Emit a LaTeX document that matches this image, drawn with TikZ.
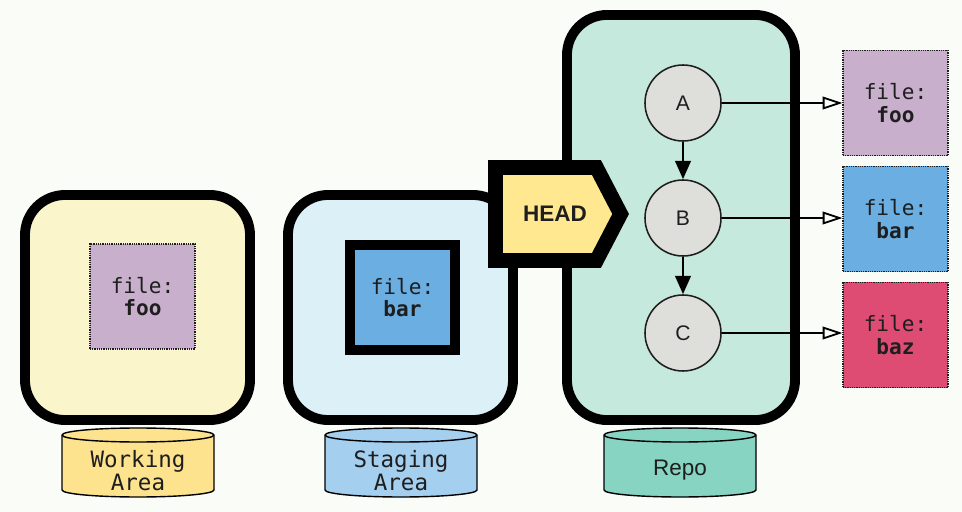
\documentclass[tikz,border=0pt]{standalone}
\usepackage{fontspec}
\setsansfont{Liberation Sans}
\setmonofont{DejaVu Sans Mono}
\usetikzlibrary{positioning,shapes.symbols,arrows.meta}

\definecolor{paper}{RGB}{250,252,248}
\definecolor{workfill}{RGB}{251,245,204}
\definecolor{stagefill}{RGB}{219,240,247}
\definecolor{repofill}{RGB}{197,234,221}
\definecolor{workcyl}{RGB}{253,227,142}
\definecolor{stagecyl}{RGB}{165,207,239}
\definecolor{repocyl}{RGB}{134,212,193}
\definecolor{lavender}{RGB}{200,175,203}
\definecolor{fileblue}{RGB}{106,174,226}
\definecolor{filepink}{RGB}{222,76,116}
\definecolor{headyellow}{RGB}{255,232,144}
\definecolor{commitgray}{RGB}{222,223,219}
\definecolor{ink}{RGB}{30,30,30}

\begin{document}
\begin{tikzpicture}[x=0.025cm, y=-0.025cm,
  area/.style={draw, line width=7pt, rounded corners=1cm, minimum width=5.625cm, minimum height=5.625cm},
  drum/.style={draw, line width=1pt},
  drumtext/.style={align=center, text=ink, font=\ttfamily\fontsize{16}{16.5}\selectfont},
  file/.style={draw=ink, line width=0.9pt, dash pattern=on 0.8pt off 0.8pt, minimum size=2.625cm, align=center, text=ink, font=\ttfamily\fontsize{15}{16}\selectfont},
  stagedfile/.style={file, draw=black, solid, line width=7pt},
  commit/.style={circle, draw=ink, line width=1.1pt, fill=commitgray, minimum size=1.9cm, text=ink, font=\sffamily\fontsize{15}{17}\selectfont},
  parent/.style={line width=1.8pt, -{Triangle[length=13pt, width=11pt]}},
  blob/.style={line width=1.3pt, -{Triangle[open, length=14pt, width=9pt]}},
  headtag/.style={signal, signal to=east, signal pointer angle=125, draw=black, line width=10.5pt, fill=headyellow, minimum width=3.125cm, minimum height=2.325cm}]

\fill[paper] (0,0) rectangle (962,512);
\useasboundingbox (0,0) rectangle (962,512);

\foreach \cx/\col in {138/workcyl, 401/stagecyl, 680/repocyl}{
  \draw[drum, fill=\col] (\cx-76,435) -- (\cx-76,490) arc[start angle=180, end angle=0, x radius=76, y radius=7]
    -- (\cx+76,435) arc[start angle=0, end angle=-180, x radius=76, y radius=7] -- cycle;
  \draw[drum] (\cx-76,435) arc[start angle=180, end angle=0, x radius=76, y radius=7];
}
\node[drumtext] (worklabel) at (138,471) {Working\\Area};
\node[drumtext] (stagelabel) at (401,471) {Staging\\Area};
\node[drumtext, font=\sffamily\fontsize{16}{18}\selectfont] (repolabel) at (680,470) {Repo};

\node[area, fill=workfill] (work) at (137.5,307.5) {};
\node[area, fill=stagefill] (stage) at (400.5,307.5) {};
\node[area, fill=repofill, minimum width=5.7cm, minimum height=10.125cm] (repo) at (681,217.5) {};

\node[file, fill=lavender] (wfoo) at (142.5,296.5) {file:\\\textbf{foo}};
\node[stagedfile, fill=fileblue] (sbar) at (402.5,297.5) {file:\\\textbf{bar}};

\node[commit] (a) at (683,103) {A};
\node[commit] (b) at (683,218) {B};
\node[commit] (c) at (683,333) {C};

\node[file, fill=lavender] (rfoo) at (895.5,103) {file:\\\textbf{foo}};
\node[file, fill=fileblue] (rbar) at (895.5,219) {file:\\\textbf{bar}};
\node[file, fill=filepink] (rbaz) at (895.5,335) {file:\\\textbf{baz}};

\draw[parent] (a) -- (b);
\draw[parent] (b) -- (c);
\draw[blob] (a) -- (a -| rfoo.west);
\draw[blob] (b) -- (b -| rbar.west);
\draw[blob] (c) -- (c -| rbaz.west);

\node[headtag] (head) at (546,214) {};
\node[text=ink, font=\sffamily\bfseries\fontsize{16}{18}\selectfont] (headlabel) at (555,214) {HEAD};

\end{tikzpicture}
\end{document}
